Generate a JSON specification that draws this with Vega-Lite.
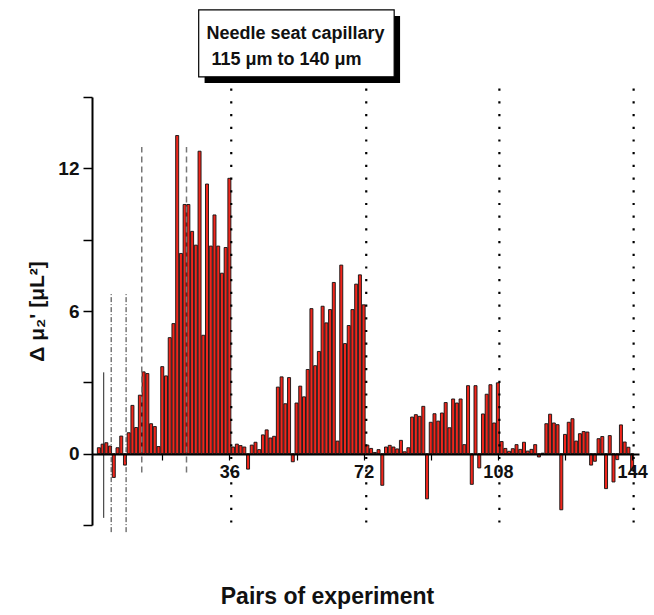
{
  "$schema": "https://vega.github.io/schema/vega-lite/v6.json",
  "width": 547,
  "height": 428,
  "autosize": {"type": "none"},
  "padding": {"left": 92, "top": 97, "right": 15, "bottom": 90},
  "background": "white",
  "config": {"view": {"stroke": null}, "font": "Liberation Sans"},
  "datasets": {
    "bars": [
      {"pair": 1, "dmu": 0.25}, {"pair": 2, "dmu": 0.4}, {"pair": 3, "dmu": 0.46}, {"pair": 4, "dmu": 0.32},
      {"pair": 5, "dmu": -1.0}, {"pair": 6, "dmu": 0.25}, {"pair": 7, "dmu": 0.74}, {"pair": 8, "dmu": -0.48},
      {"pair": 9, "dmu": 0.88}, {"pair": 10, "dmu": 2.03}, {"pair": 11, "dmu": 1.1}, {"pair": 12, "dmu": 2.46},
      {"pair": 13, "dmu": 3.44}, {"pair": 14, "dmu": 3.37}, {"pair": 15, "dmu": 1.26}, {"pair": 16, "dmu": 1.14},
      {"pair": 17, "dmu": 0.3}, {"pair": 18, "dmu": 3.66}, {"pair": 19, "dmu": 3.27}, {"pair": 20, "dmu": 4.88},
      {"pair": 21, "dmu": 5.47}, {"pair": 22, "dmu": 13.38}, {"pair": 23, "dmu": 8.42}, {"pair": 24, "dmu": 10.48},
      {"pair": 25, "dmu": 10.48}, {"pair": 26, "dmu": 9.35}, {"pair": 27, "dmu": 8.77}, {"pair": 28, "dmu": 12.72},
      {"pair": 29, "dmu": 4.98}, {"pair": 30, "dmu": 11.34}, {"pair": 31, "dmu": 8.73}, {"pair": 32, "dmu": 10.04},
      {"pair": 33, "dmu": 8.73}, {"pair": 34, "dmu": 7.59}, {"pair": 35, "dmu": 8.67}, {"pair": 36, "dmu": 11.58},
      {"pair": 37, "dmu": 0.28}, {"pair": 38, "dmu": 0.4}, {"pair": 39, "dmu": 0.34}, {"pair": 40, "dmu": 0.28},
      {"pair": 41, "dmu": -0.65}, {"pair": 42, "dmu": 0.36}, {"pair": 43, "dmu": 0.48}, {"pair": 44, "dmu": 0.17},
      {"pair": 45, "dmu": 0.79}, {"pair": 46, "dmu": 1.0}, {"pair": 47, "dmu": 0.66}, {"pair": 48, "dmu": 0.73},
      {"pair": 49, "dmu": 2.8}, {"pair": 50, "dmu": 3.23}, {"pair": 51, "dmu": 2.1}, {"pair": 52, "dmu": 3.2},
      {"pair": 53, "dmu": -0.34}, {"pair": 54, "dmu": 2.13}, {"pair": 55, "dmu": 2.84}, {"pair": 56, "dmu": 2.39},
      {"pair": 57, "dmu": 3.54}, {"pair": 58, "dmu": 6.1}, {"pair": 59, "dmu": 3.7}, {"pair": 60, "dmu": 4.3},
      {"pair": 61, "dmu": 6.2}, {"pair": 62, "dmu": 5.5}, {"pair": 63, "dmu": 6.06}, {"pair": 64, "dmu": 7.2},
      {"pair": 65, "dmu": 0.53}, {"pair": 66, "dmu": 7.93}, {"pair": 67, "dmu": 4.63}, {"pair": 68, "dmu": 5.39},
      {"pair": 69, "dmu": 6.06}, {"pair": 70, "dmu": 7.13}, {"pair": 71, "dmu": 7.52}, {"pair": 72, "dmu": 6.26},
      {"pair": 73, "dmu": 0.36}, {"pair": 74, "dmu": 0.22}, {"pair": 75, "dmu": 0.05}, {"pair": 76, "dmu": 0.17},
      {"pair": 77, "dmu": -1.33}, {"pair": 78, "dmu": 0.28}, {"pair": 79, "dmu": 0.35}, {"pair": 80, "dmu": 0.28},
      {"pair": 81, "dmu": 0.2}, {"pair": 82, "dmu": 0.56}, {"pair": 83, "dmu": 0.08}, {"pair": 84, "dmu": 0.25},
      {"pair": 85, "dmu": 1.54}, {"pair": 86, "dmu": 1.64}, {"pair": 87, "dmu": 1.57}, {"pair": 88, "dmu": 1.99},
      {"pair": 89, "dmu": -1.9}, {"pair": 90, "dmu": 1.32}, {"pair": 91, "dmu": 1.68}, {"pair": 92, "dmu": 1.37},
      {"pair": 93, "dmu": 1.71}, {"pair": 94, "dmu": 2.15}, {"pair": 95, "dmu": 1.09}, {"pair": 96, "dmu": 2.3},
      {"pair": 97, "dmu": 2.13}, {"pair": 98, "dmu": 2.3}, {"pair": 99, "dmu": 0.38}, {"pair": 100, "dmu": 2.86},
      {"pair": 101, "dmu": -1.29}, {"pair": 102, "dmu": 2.86}, {"pair": 103, "dmu": -0.6}, {"pair": 104, "dmu": 1.67},
      {"pair": 105, "dmu": 2.5}, {"pair": 106, "dmu": 2.9}, {"pair": 107, "dmu": 1.29}, {"pair": 108, "dmu": 2.98},
      {"pair": 109, "dmu": 0.51}, {"pair": 110, "dmu": 0.22}, {"pair": 111, "dmu": 0.1}, {"pair": 112, "dmu": 0.21},
      {"pair": 113, "dmu": 0.38}, {"pair": 114, "dmu": 0.18}, {"pair": 115, "dmu": 0.48}, {"pair": 116, "dmu": 0.11},
      {"pair": 117, "dmu": 0.18}, {"pair": 118, "dmu": 0.38}, {"pair": 119, "dmu": -0.14}, {"pair": 120, "dmu": 0.02},
      {"pair": 121, "dmu": 1.26}, {"pair": 122, "dmu": 1.66}, {"pair": 123, "dmu": 1.29}, {"pair": 124, "dmu": 1.22},
      {"pair": 125, "dmu": -2.36}, {"pair": 126, "dmu": 0.81}, {"pair": 127, "dmu": 1.32}, {"pair": 128, "dmu": 1.47},
      {"pair": 129, "dmu": 0.53}, {"pair": 130, "dmu": 0.84}, {"pair": 131, "dmu": 0.93}, {"pair": 132, "dmu": 0.91},
      {"pair": 133, "dmu": -0.48}, {"pair": 134, "dmu": -0.32}, {"pair": 135, "dmu": 0.63}, {"pair": 136, "dmu": 0.72},
      {"pair": 137, "dmu": -1.47}, {"pair": 138, "dmu": 0.76}, {"pair": 139, "dmu": -1.19}, {"pair": 140, "dmu": -0.25},
      {"pair": 141, "dmu": 1.21}, {"pair": 142, "dmu": 0.49}, {"pair": 143, "dmu": 0.27}, {"pair": 144, "dmu": -0.7}
    ],
    "dotted": [
      {"x": 36.5, "lo": -2.9, "hi": 15.4},
      {"x": 72.7, "lo": -2.9, "hi": 15.4},
      {"x": 108.4, "lo": -2.9, "hi": 15.4},
      {"x": 144.4, "lo": -2.9, "hi": 15.4}
    ],
    "solidguide": [{"x": 2.3, "lo": -2.7, "hi": 3.42}],
    "dashdot": [
      {"x": 4.3, "lo": -3.3, "hi": 6.72},
      {"x": 8.3, "lo": -3.3, "hi": 6.72}
    ],
    "dashed": [
      {"x": 12.5, "lo": -0.79, "hi": 12.9},
      {"x": 24.5, "lo": -0.79, "hi": 12.9}
    ]
  },
  "layer": [
    {
      "data": {"name": "bars"},
      "mark": {"type": "bar", "width": 3.0, "fill": "#f0261c", "stroke": "#111111", "strokeWidth": 0.9},
      "encoding": {
        "x": {
          "field": "pair", "type": "quantitative",
          "scale": {"domain": [0.5, 144.5], "nice": false, "zero": false},
          "axis": {
            "values": [18, 36, 54, 72, 90, 108, 126, 144],
            "labelExpr": "datum.value % 36 === 0 ? datum.label : ''",
            "offset": -71,
            "zindex": 2,
            "grid": false,
            "domainColor": "black", "domainWidth": 2,
            "tickColor": "black", "tickSize": 6, "tickWidth": 1.2,
            "labelFont": "Liberation Sans", "labelFontWeight": "bold", "labelFontSize": 18,
            "labelColor": "#111111", "labelPadding": 3, "labelFlush": false, "labelOverlap": false,
            "title": "Pairs of experiment",
            "titleFont": "Liberation Sans", "titleFontSize": 23, "titleFontWeight": "bold", "titleColor": "#111111",
            "titleX": 235, "titleY": 149, "titleBaseline": "alphabetic", "titleAlign": "center"
          }
        },
        "y": {
          "field": "dmu", "type": "quantitative",
          "scale": {"domain": [-3, 15], "nice": false},
          "axis": {
            "values": [-3, 0, 3, 6, 9, 12, 15],
            "labelExpr": "datum.value % 6 === 0 ? datum.label : ''",
            "grid": false,
            "zindex": 2,
            "domainColor": "black", "domainWidth": 2,
            "tickColor": "black", "tickSize": 9, "tickWidth": 1.5,
            "labelFont": "Liberation Sans", "labelFontWeight": "bold", "labelFontSize": 19,
            "labelColor": "#111111", "labelPadding": 4,
            "title": "Δ μ₂' [μL²]",
            "titleFont": "Liberation Sans", "titleFontSize": 21, "titleFontWeight": "bold", "titleColor": "#111111",
            "titlePadding": 10
          }
        }
      }
    },
    {
      "data": {"name": "dotted"},
      "mark": {"type": "rule", "color": "black", "strokeWidth": 2.2, "strokeDash": [2.2, 10.5]},
      "encoding": {
        "x": {"field": "x", "type": "quantitative"},
        "y": {"field": "lo", "type": "quantitative"},
        "y2": {"field": "hi"}
      }
    },
    {
      "data": {"name": "solidguide"},
      "mark": {"type": "rule", "color": "#222222", "strokeWidth": 1},
      "encoding": {
        "x": {"field": "x", "type": "quantitative"},
        "y": {"field": "lo", "type": "quantitative"},
        "y2": {"field": "hi"}
      }
    },
    {
      "data": {"name": "dashdot"},
      "mark": {"type": "rule", "color": "#333333", "strokeWidth": 1, "strokeDash": [5, 2, 1, 2]},
      "encoding": {
        "x": {"field": "x", "type": "quantitative"},
        "y": {"field": "lo", "type": "quantitative"},
        "y2": {"field": "hi"}
      }
    },
    {
      "data": {"name": "dashed"},
      "mark": {"type": "rule", "color": "#777777", "strokeWidth": 1.5, "strokeDash": [6, 4]},
      "encoding": {
        "x": {"field": "x", "type": "quantitative"},
        "y": {"field": "lo", "type": "quantitative"},
        "y2": {"field": "hi"}
      }
    },
    {
      "data": {"values": [{}]},
      "mark": {"type": "rect", "fill": "black"},
      "encoding": {
        "x": {"datum": 29.35, "type": "quantitative"},
        "x2": {"datum": 81.77},
        "y": {"datum": 18.41, "type": "quantitative"},
        "y2": {"datum": 15.59}
      }
    },
    {
      "data": {"values": [{}]},
      "mark": {"type": "rect", "fill": "white", "stroke": "black", "strokeWidth": 1.2},
      "encoding": {
        "x": {"datum": 27.77, "type": "quantitative"},
        "x2": {"datum": 80.19},
        "y": {"datum": 18.66, "type": "quantitative"},
        "y2": {"datum": 15.85}
      }
    },
    {
      "data": {"values": [{}]},
      "mark": {"type": "text", "align": "left", "baseline": "alphabetic", "font": "Liberation Sans", "fontWeight": "bold", "fontSize": 18, "color": "#111111"},
      "encoding": {
        "x": {"datum": 29.87, "type": "quantitative"},
        "y": {"datum": 17.43, "type": "quantitative"},
        "text": {"value": "Needle seat capillary"}
      }
    },
    {
      "data": {"values": [{}]},
      "mark": {"type": "text", "align": "left", "baseline": "alphabetic", "font": "Liberation Sans", "fontWeight": "bold", "fontSize": 18, "color": "#111111"},
      "encoding": {
        "x": {"datum": 31.19, "type": "quantitative"},
        "y": {"datum": 16.35, "type": "quantitative"},
        "text": {"value": "115 μm to 140 μm"}
      }
    }
  ]
}
